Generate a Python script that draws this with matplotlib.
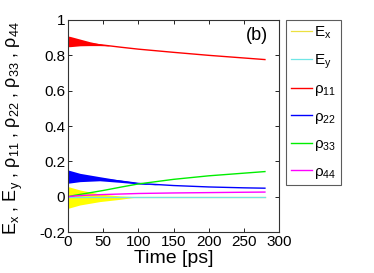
import numpy as np
import matplotlib
matplotlib.use('Agg')
import matplotlib.pyplot as plt

plt.rcParams['font.family'] = ['Liberation Sans', 'DejaVu Sans']
plt.rcParams['mathtext.fontset'] = 'custom'
plt.rcParams['mathtext.rm'] = 'Liberation Sans'
plt.rcParams['mathtext.it'] = 'Liberation Sans'

# time grid [ps] for the smooth populations
t = [0, 10, 25, 50, 75, 100, 150, 200, 250, 280]
rho11 = [0.879, 0.875, 0.868, 0.858, 0.846, 0.835, 0.817, 0.800, 0.785, 0.776]
rho22 = [0.113, 0.110, 0.105, 0.098, 0.088, 0.075, 0.063, 0.055, 0.050, 0.048]
rho33 = [0.0, 0.008, 0.018, 0.035, 0.054, 0.072, 0.098, 0.118, 0.133, 0.142]
rho44 = [0.0, 0.004, 0.008, 0.012, 0.015, 0.018, 0.021, 0.023, 0.025, 0.026]
ex = [0.0, 0.0, 0.0, 0.0, 0.0, 0.0, 0.0, 0.0, 0.0, 0.0]
ey = [-0.002, -0.002, -0.002, -0.002, -0.002, -0.002, -0.002, -0.002, -0.002, -0.002]

# envelopes of the fast oscillations at early times
t_red = [0, 3, 17, 31, 45, 60]
red_hi = [0.909, 0.907, 0.892, 0.877, 0.865, 0.853]
red_lo = [0.849, 0.849, 0.854, 0.855, 0.855, 0.853]

t_blue = [0, 17, 45, 74, 100, 130]
blue_hi = [0.151, 0.132, 0.113, 0.094, 0.079, 0.066]
blue_lo = [0.076, 0.085, 0.090, 0.081, 0.072, 0.066]

t_ex = [0, 17, 45, 74, 90, 105]
ex_hi = [0.057, 0.038, 0.015, 0.004, 0.001, 0.0]
ex_lo = [-0.066, -0.047, -0.028, -0.015, -0.006, 0.0]

labels = ['E$_x$', 'E$_y$', 'ρ$_{11}$', 'ρ$_{22}$', 'ρ$_{33}$', 'ρ$_{44}$']
colors = ['#ece040', '#70e6e6', '#ff0000', '#0000ff', '#00ee00', '#ff00ff']
fill_yellow = '#ffff00'
yticks = [-0.2, 0, 0.2, 0.4, 0.6, 0.8, 1]
ytick_labels = ['-0.2', '0', '0.2', '0.4', '0.6', '0.8', '1']
xticks = [0, 50, 100, 150, 200, 250, 300]

fig = plt.figure(figsize=(3.74, 2.73), dpi=100)
ax = fig.add_axes([68/374, 41/273, 211/374, 212/273])

ax.fill_between(t_ex, ex_lo, ex_hi, color=fill_yellow, lw=0)
ax.fill_between(t_red, red_lo, red_hi, color=colors[2], lw=0)
ax.fill_between(t_blue, blue_lo, blue_hi, color=colors[3], lw=0)

series = [ex, ey, rho11, rho22, rho33, rho44]
widths = [0.9, 0.9, 1.0, 1.0, 1.0, 1.0]
handles = []
for s, c, lab, w in zip(series, colors, labels, widths):
    h, = ax.plot(t, s, color=c, lw=w, label=lab)
    handles.append(h)

ax.set_xlim(0, 300)
ax.set_ylim(-0.2, 1)
ax.set_xticks(xticks)
ax.set_yticks(yticks, ytick_labels)
ax.tick_params(direction='in', top=True, right=True, length=3, width=0.6,
               labelsize=11, pad=2)
for sp in ax.spines.values():
    sp.set_linewidth(0.8)
    sp.set_color('#333333')

ax.set_xlabel('Time [ps]', fontsize=14, labelpad=1)
ax.set_ylabel('E$_x$ , E$_y$ , ρ$_{11}$ , ρ$_{22}$ , ρ$_{33}$ , ρ$_{44}$', fontsize=13)
ax.yaxis.set_label_coords(-0.205, 0.49)

ax.text(0.895, 0.925, '(b)', transform=ax.transAxes, fontsize=13,
        ha='center', va='center')

leg = fig.legend(handles=handles, loc='upper left',
                 bbox_to_anchor=(286/374, 253/273), fontsize=11,
                 frameon=True, fancybox=False, borderpad=0.3,
                 handlelength=1.4, handletextpad=0.15, labelspacing=0.75,
                 borderaxespad=0)
leg.get_frame().set_edgecolor('#333333')
leg.get_frame().set_linewidth(0.8)

fig.savefig('out.png', dpi=100)
